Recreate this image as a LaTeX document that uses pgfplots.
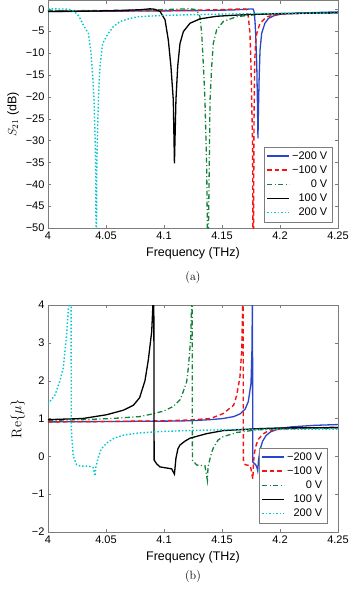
\documentclass[border=0pt]{standalone}
\usepackage{pgfplots}
\pgfplotsset{compat=1.18}
\usepackage{fontspec}
\newfontfamily\arial{Liberation Sans}
\definecolor{mblue}{RGB}{40,70,200}
\definecolor{mred}{RGB}{245,20,20}
\definecolor{mgreen}{RGB}{20,130,60}
\definecolor{mcyan}{RGB}{0,200,205}
\definecolor{framegray}{RGB}{125,125,125}
\pgfplotsset{
  legend image code/.code={\draw[#1] (0pt,0pt) -- (22pt,0pt);},
  mystyle/.style={
    width=290pt, scale only axis,
    xmin=4, xmax=4.25,
    xtick={4,4.05,4.1,4.15,4.2,4.25},
    xticklabels={4,4.05,4.1,4.15,4.2,4.25},
    tick align=inside, major tick length=3pt,
    axis line style={framegray}, tick style={framegray},
    ticklabel style={font=\arial\fontsize{11}{13}\selectfont, text=black},
    xlabel={Frequency (THz)},
    xlabel style={font=\arial\fontsize{12.5}{14}\selectfont, yshift=-1pt},
    legend cell align=right,
    legend style={at={(rel axis cs:1,0)}, anchor=south east, xshift=-6pt, yshift=6pt,
      font=\arial\fontsize{11}{12.5}\selectfont, draw=framegray, fill=white,
      row sep=1pt, inner sep=2.5pt},
  },
  sblue/.style={color=mblue, line width=1.3pt},
  sred/.style={color=mred, line width=1.4pt, dash pattern=on 4.5pt off 3pt},
  sgreen/.style={color=mgreen, line width=1.3pt, dash pattern=on 5pt off 2.5pt on 1pt off 2.5pt},
  sblack/.style={color=black, line width=1.3pt},
  scyan/.style={color=mcyan, line width=1.4pt, dash pattern=on 1.5pt off 2pt},
}
\begin{document}
\begin{tikzpicture}
\path[use as bounding box] (0pt,0pt) rectangle (350pt,-590pt);
% ---------------- (a) ----------------
\begin{axis}[mystyle, height=227.5pt, at={(48pt,-228pt)}, anchor=south west,
  ymin=-50, ymax=2,
  ytick={0,-5,-10,-15,-20,-25,-30,-35,-40,-45,-50},
  yticklabels={0,−5,−10,−15,−20,−25,−30,−35,−40,−45,−50},
  ylabel={$S_{21}$ {\arial(dB)}},
  ylabel style={font=\arial\fontsize{12.5}{14}\selectfont},
]
\addplot[sblue] coordinates {(4.000,-0.50)(4.050,-0.45)(4.100,-0.38)(4.140,-0.28)(4.160,-0.15)(4.170,-0.02)(4.175,0.08)(4.1770,0.02)(4.1779,-0.9)(4.1785,-3)(4.1790,-5.5)(4.1800,-13)(4.1805,-20.7)(4.1810,-29.5)(4.1815,-22)(4.1820,-16)(4.1828,-9.3)(4.1842,-5.5)(4.1870,-3.2)(4.1900,-2.1)(4.1950,-1.45)(4.2000,-1.15)(4.2100,-0.95)(4.2300,-0.75)(4.2500,-0.6)};
\addlegendentry{−200 V}
\addplot[sred] coordinates {(4.000,-0.45)(4.050,-0.40)(4.100,-0.30)(4.140,-0.15)(4.160,0.0)(4.1680,0.08)(4.1710,0.0)(4.1720,-0.8)(4.1727,-1.7)(4.1741,-5.5)(4.1750,-13.1)(4.1756,-20.7)(4.1764,-32)(4.1768,-60)(4.1772,-50)(4.1776,-25)(4.1782,-12)(4.1790,-7.5)(4.1800,-5.5)(4.1828,-3.2)(4.1885,-1.7)(4.2000,-1.1)(4.2250,-0.9)(4.2500,-0.8)};
\addlegendentry{−100 V}
\addplot[sgreen] coordinates {(4.000,-0.35)(4.050,-0.28)(4.090,-0.15)(4.110,0.0)(4.1200,0.1)(4.1260,0.0)(4.1290,-0.6)(4.1310,-1.7)(4.1325,-5.5)(4.1340,-13.1)(4.1353,-20.7)(4.1368,-35.9)(4.1378,-60)(4.1386,-45)(4.1397,-20.7)(4.1411,-13.1)(4.1425,-7.8)(4.1454,-4.7)(4.1511,-2.8)(4.1626,-1.7)(4.1800,-1.2)(4.2000,-1.0)(4.2500,-0.8)};
\addlegendentry{0 V}
\addplot[sblack] coordinates {(4.000,-0.50)(4.030,-0.45)(4.060,-0.30)(4.080,-0.10)(4.0880,0.1)(4.0920,0.0)(4.0966,-0.5)(4.1009,-2.4)(4.1037,-7.0)(4.1060,-13.1)(4.1080,-20.7)(4.1090,-35.2)(4.1103,-20.7)(4.1118,-13.1)(4.1138,-7.8)(4.1167,-5.1)(4.1224,-3.2)(4.1310,-2.2)(4.1454,-1.6)(4.1650,-1.3)(4.1800,-1.15)(4.2000,-1.0)(4.2500,-0.8)};
\addlegendentry{100 V}
\addplot[scyan] coordinates {(4.000,0.1)(4.015,0.05)(4.0200,-0.1)(4.0230,-0.6)(4.0265,-1.5)(4.0305,-3.6)(4.0348,-5.5)(4.0368,-9.3)(4.0382,-13.9)(4.0397,-20.7)(4.0405,-28.3)(4.0411,-35.9)(4.0416,-60)(4.0421,-35)(4.0434,-20.7)(4.0448,-13.1)(4.0471,-7.8)(4.0520,-5.5)(4.0563,-4.0)(4.0620,-2.8)(4.0707,-2.1)(4.0780,-1.7)(4.1000,-1.4)(4.1500,-1.1)(4.2000,-0.95)(4.2500,-0.85)};
\addlegendentry{200 V}
\end{axis}
\node[font=\fontsize{12}{14}\selectfont] at (193pt,-278pt) {(a)};
% ---------------- (b) ----------------
\begin{axis}[mystyle, height=227pt, at={(48pt,-532pt)}, anchor=south west,
  ymin=-2, ymax=4,
  ytick={-2,-1,0,1,2,3,4},
  yticklabels={−2,−1,0,1,2,3,4},
  ylabel={$\mathrm{Re}\{\mu\}$},
  ylabel style={font=\fontsize{14}{16}\selectfont},
  legend style={xshift=-5pt, yshift=3pt},
]
\addplot[sblue] coordinates {(4.000,0.91)(4.050,0.92)(4.100,0.93)(4.1224,0.94)(4.140,0.97)(4.151,1.0)(4.160,1.05)(4.1655,1.12)(4.1700,1.25)(4.1727,1.45)(4.1750,1.93)(4.1758,2.8)(4.1763,4.5)(4.1765,-0.15)(4.1790,-0.22)(4.1802,-0.3)(4.1808,-0.38)(4.1815,-0.1)(4.1830,0.2)(4.1850,0.4)(4.1880,0.55)(4.1920,0.65)(4.2000,0.74)(4.2100,0.78)(4.2300,0.82)(4.2500,0.84)};
\addlegendentry{−200 V}
\addplot[sred] coordinates {(4.000,0.91)(4.050,0.92)(4.100,0.94)(4.122,0.96)(4.140,1.0)(4.151,1.13)(4.160,1.35)(4.1626,1.6)(4.1655,2.1)(4.1670,2.8)(4.1682,4.5)(4.1684,-0.1)(4.1700,-0.22)(4.1745,-0.25)(4.1766,-0.6)(4.1772,-0.15)(4.1780,0.1)(4.1795,0.3)(4.1813,0.45)(4.1850,0.58)(4.1885,0.65)(4.2000,0.72)(4.2250,0.75)(4.2500,0.77)};
\addlegendentry{−100 V}
\addplot[sgreen] coordinates {(4.000,0.95)(4.030,0.97)(4.055,1.0)(4.079,1.05)(4.090,1.12)(4.100,1.2)(4.108,1.32)(4.1140,1.5)(4.1167,1.72)(4.1196,1.98)(4.1210,2.35)(4.1230,3.1)(4.1242,4.5)(4.1245,-0.1)(4.1282,-0.23)(4.1353,-0.25)(4.1374,-0.63)(4.1380,-0.27)(4.1408,0.08)(4.1425,0.22)(4.1466,0.43)(4.1510,0.52)(4.1626,0.63)(4.1800,0.7)(4.2000,0.73)(4.2500,0.75)};
\addlegendentry{0 V}
\addplot[sblack] coordinates {(4.000,0.97)(4.030,1.0)(4.0506,1.1)(4.0650,1.22)(4.0736,1.35)(4.0790,1.55)(4.0836,2.0)(4.0865,2.55)(4.0894,3.3)(4.0912,4.5)(4.0915,-0.1)(4.0937,-0.2)(4.0966,-0.28)(4.1066,-0.33)(4.1090,-0.47)(4.1103,-0.05)(4.1120,0.2)(4.1138,0.3)(4.1180,0.4)(4.1224,0.48)(4.1368,0.6)(4.1510,0.68)(4.1800,0.73)(4.2000,0.75)(4.2500,0.76)};
\addlegendentry{100 V}
\addplot[scyan] coordinates {(4.000,1.38)(4.006,1.62)(4.0103,2.0)(4.0132,2.35)(4.0160,3.2)(4.0185,4.3)(4.0196,9)(4.0201,0.8)(4.0204,0.55)(4.0218,0.0)(4.0247,-0.22)(4.0280,-0.26)(4.0350,-0.26)(4.0390,-0.3)(4.0405,-0.52)(4.0412,-0.3)(4.0434,-0.02)(4.0460,0.2)(4.0506,0.35)(4.0570,0.48)(4.0650,0.56)(4.0790,0.62)(4.1000,0.66)(4.1300,0.69)(4.1700,0.71)(4.2500,0.72)};
\addlegendentry{200 V}
\end{axis}
\node[font=\fontsize{12}{14}\selectfont] at (193pt,-576pt) {(b)};
\end{tikzpicture}
\end{document}
